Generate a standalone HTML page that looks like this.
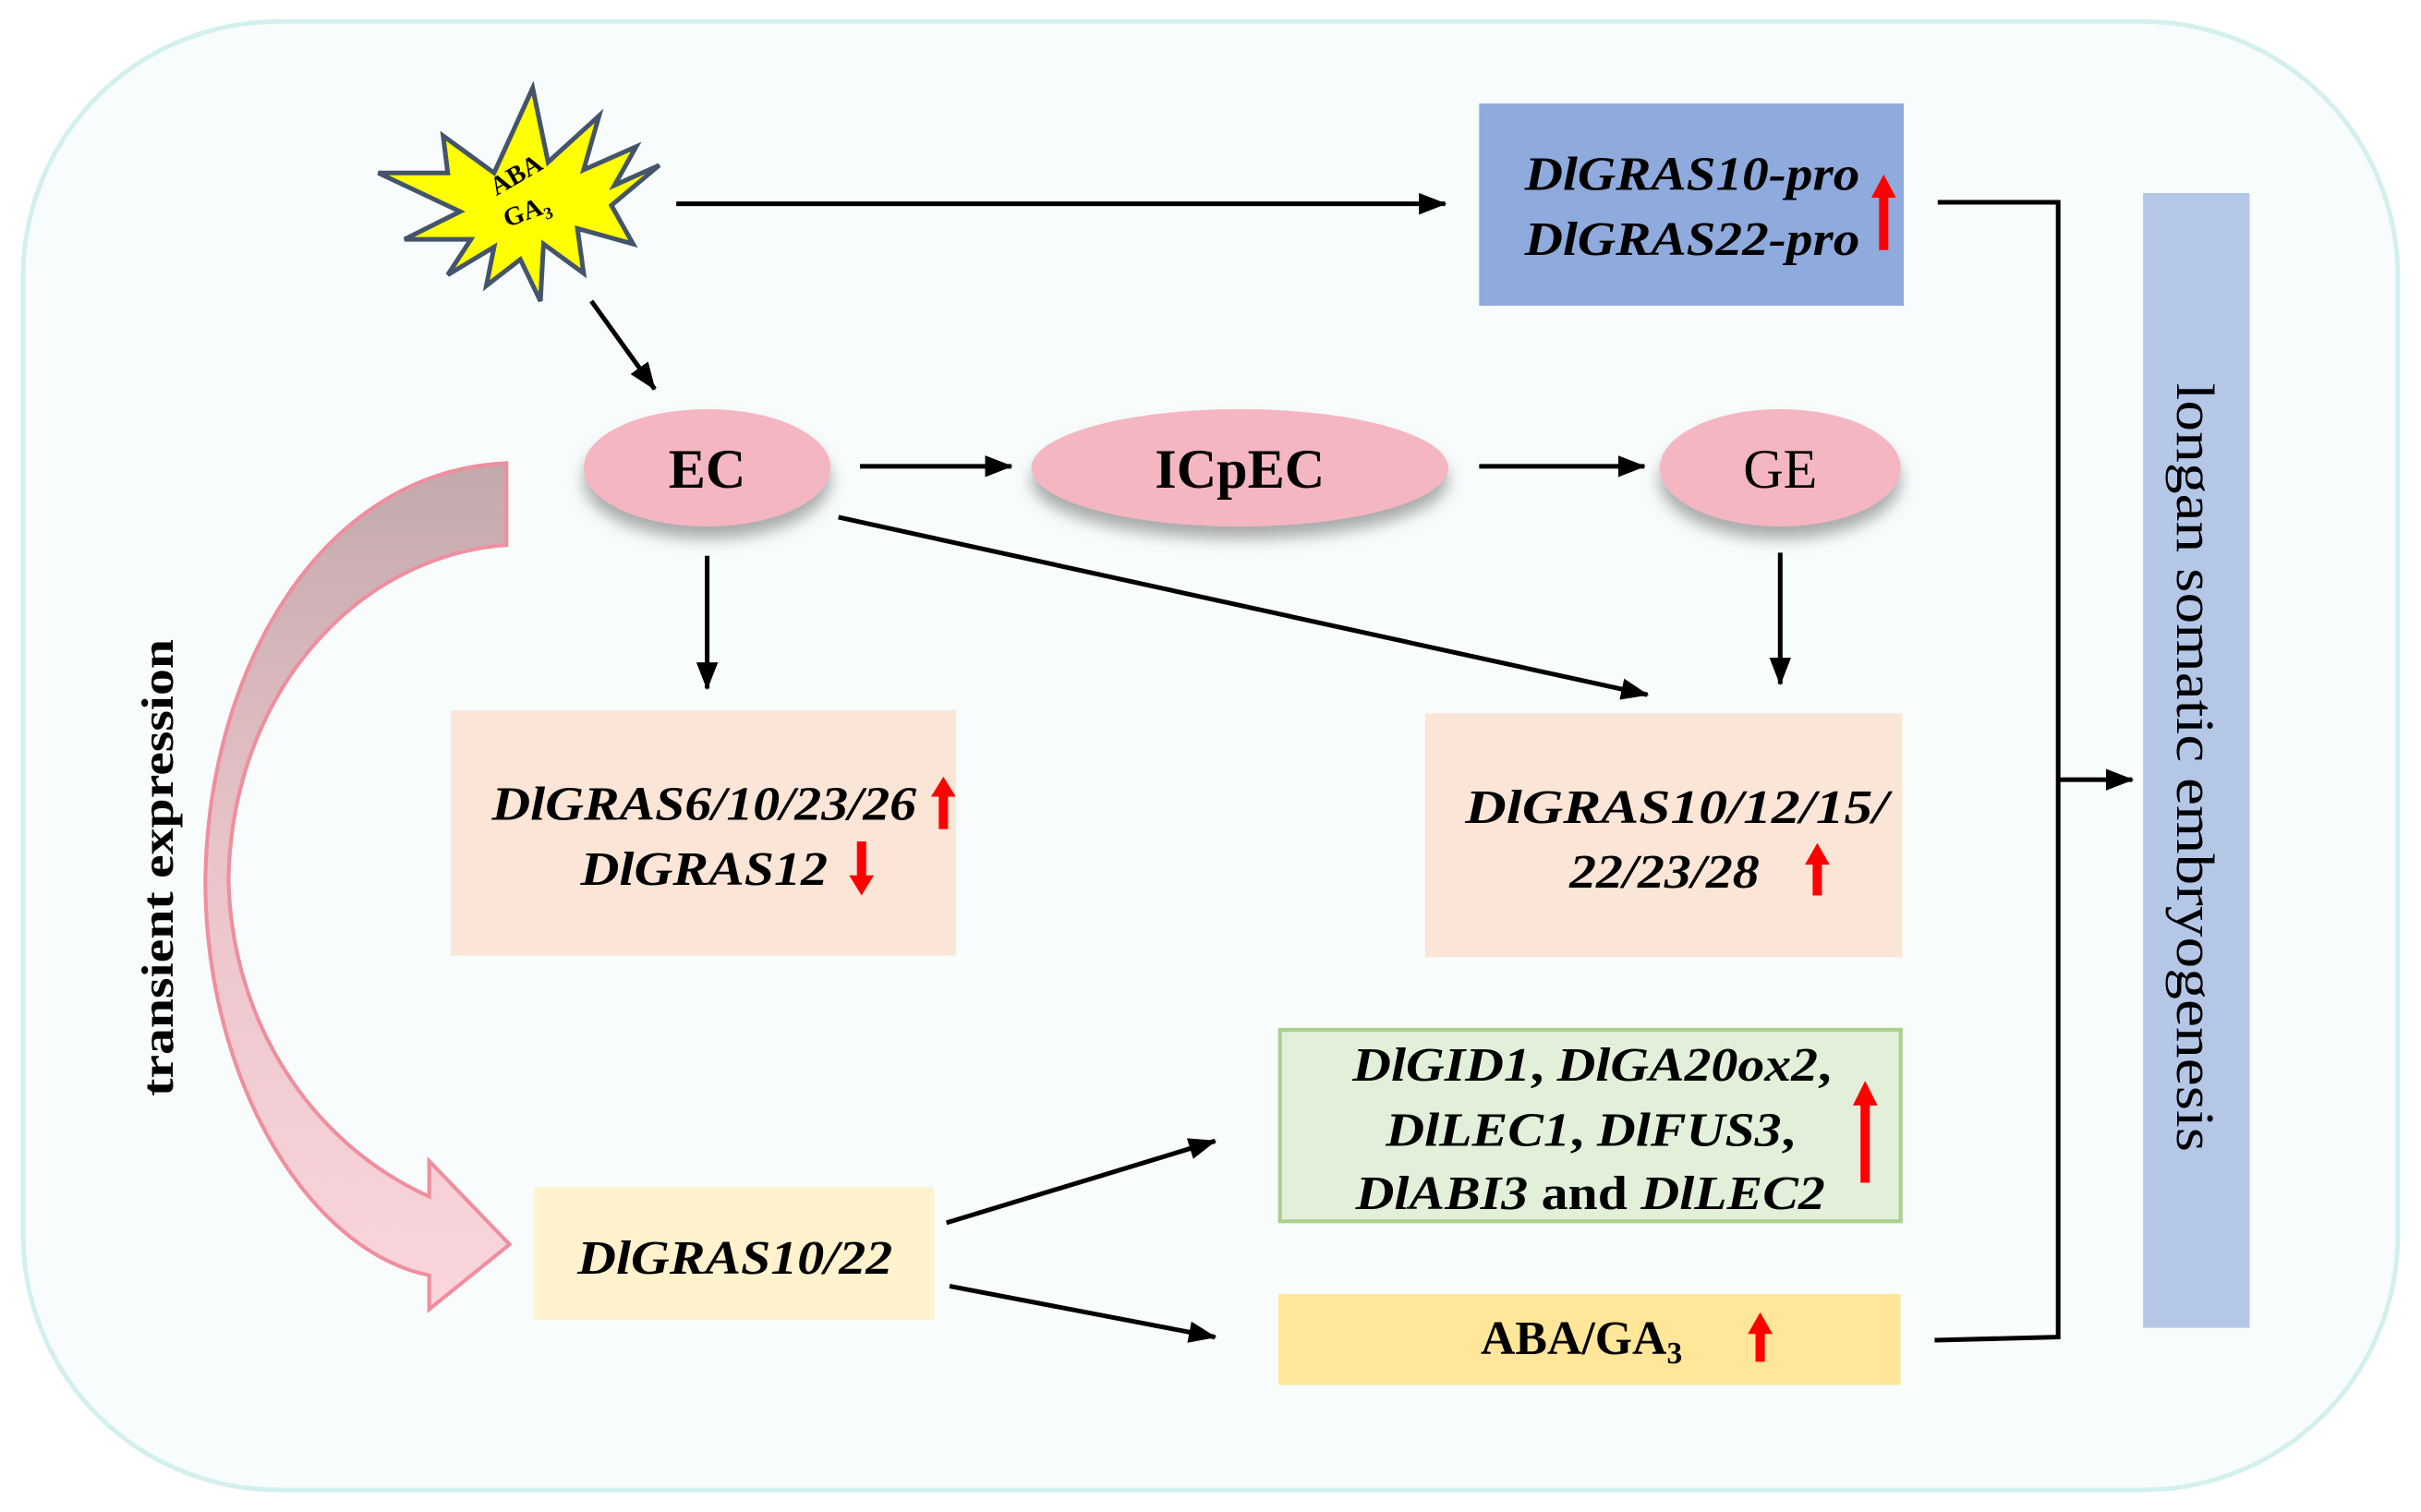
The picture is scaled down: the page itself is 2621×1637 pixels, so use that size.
<!DOCTYPE html>
<html><head><meta charset="utf-8"><style>html,body{margin:0;padding:0;background:#fff}svg{display:block}</style></head>
<body>
<svg width="2621" height="1637" viewBox="0 0 1568 979.3" preserveAspectRatio="none" xmlns="http://www.w3.org/2000/svg" font-family="'Liberation Serif', serif">
<defs>
<marker id="ah" markerWidth="10" markerHeight="10" refX="9" refY="5" orient="auto" markerUnits="userSpaceOnUse" viewBox="0 0 10 10"><path d="M0,0 L10,5 L0,10 Z" fill="#000"/></marker>
<marker id="ah2" markerWidth="18" markerHeight="14" refX="17" refY="7" orient="auto" markerUnits="userSpaceOnUse"><path d="M0,0 L18,7 L0,14 Z" fill="#000"/></marker>
<filter id="sh" x="-30%" y="-30%" width="160%" height="180%"><feDropShadow dx="0" dy="8" stdDeviation="5" flood-color="#666" flood-opacity="0.55"/></filter>
<linearGradient id="cg" x1="0" y1="0" x2="0" y2="1"><stop offset="0" stop-color="#c2a9ab"/><stop offset="0.45" stop-color="#e8c3c8"/><stop offset="1" stop-color="#fbd6dd"/></linearGradient>
</defs>
<rect x="0" y="0" width="1568" height="980" fill="#fff"/>
<rect x="15" y="14" width="1538" height="951" rx="165" ry="165" fill="#f8fcfd" stroke="#d3f0ee" stroke-width="3"/>

<!-- star -->
<polygon points="345,57 355,105 388,75 378,110 412,95 398,120 427,107 396,133 410,158 374,148 378,177 352,158 350,195 337,168 315,185 320,160 290,178 305,155 262,155 298,137 245,112 290,112 287,88 320,112" fill="#ffff00" stroke="#44546a" stroke-width="3"/>
<text x="0" y="0" font-size="17" font-weight="bold" transform="translate(337,118) rotate(-30)" text-anchor="middle">ABA</text>
<text x="0" y="0" font-size="17" font-weight="bold" transform="translate(343,142) rotate(-20)" text-anchor="middle">GA<tspan font-size="11" dy="4">3</tspan></text>

<!-- arrows -->
<g stroke="#000" stroke-width="3" fill="none" marker-end="url(#ah2)">
<line x1="438" y1="132" x2="936" y2="132"/>
<line x1="383" y1="195" x2="424" y2="252"/>
<line x1="557" y1="302" x2="655" y2="302"/>
<line x1="958" y1="302" x2="1065" y2="302"/>
<line x1="458" y1="360" x2="458" y2="446"/>
<line x1="543" y1="335" x2="1067" y2="450"/>
<line x1="1153" y1="358" x2="1153" y2="443"/>
<line x1="613" y1="792" x2="787" y2="739"/>
<line x1="615" y1="833" x2="787" y2="866"/>
<line x1="1333" y1="505" x2="1381" y2="505"/>
</g>
<polyline points="1255,131 1333,131 1333,866 1253,868" fill="none" stroke="#000" stroke-width="3"/>

<!-- blue box -->
<rect x="958" y="67" width="275" height="131" fill="#8faadc"/>
<text x="1096" y="123" font-size="31" font-weight="bold" font-style="italic" text-anchor="middle" textLength="217" lengthAdjust="spacingAndGlyphs">DlGRAS10-pro</text>
<text x="1096" y="165" font-size="31" font-weight="bold" font-style="italic" text-anchor="middle" textLength="217" lengthAdjust="spacingAndGlyphs">DlGRAS22-pro</text>

<!-- vertical bar -->
<rect x="1388" y="125" width="69" height="735" fill="#b4c7e7"/>
<text transform="translate(1410,497) rotate(90)" font-size="35" text-anchor="middle" textLength="498" lengthAdjust="spacingAndGlyphs">longan somatic embryogenesis</text>

<!-- ellipses -->
<g filter="url(#sh)" fill="#f4b6c1">
<ellipse cx="458" cy="303" rx="80" ry="38"/>
<ellipse cx="803" cy="303" rx="135" ry="38"/>
<ellipse cx="1153" cy="303" rx="78" ry="38"/>
</g>
<text x="458" y="316" font-size="36" font-weight="bold" text-anchor="middle">EC</text>
<text x="803" y="316" font-size="36" font-weight="bold" text-anchor="middle">ICpEC</text>
<text x="1153" y="316" font-size="36" text-anchor="middle">GE</text>

<!-- peach boxes -->
<rect x="292" y="460" width="327" height="159" fill="#fbe5d6"/>
<text x="456" y="531" font-size="31" font-weight="bold" font-style="italic" text-anchor="middle" textLength="275" lengthAdjust="spacingAndGlyphs">DlGRAS6/10/23/26</text>
<text x="456" y="573" font-size="31" font-weight="bold" font-style="italic" text-anchor="middle" textLength="160" lengthAdjust="spacingAndGlyphs">DlGRAS12</text>
<rect x="923" y="462" width="309" height="158" fill="#fbe5d6"/>
<text x="1086" y="533" font-size="31" font-weight="bold" font-style="italic" text-anchor="middle" textLength="274" lengthAdjust="spacingAndGlyphs">DlGRAS10/12/15/</text>
<text x="1078" y="575" font-size="31" font-weight="bold" font-style="italic" text-anchor="middle" textLength="123" lengthAdjust="spacingAndGlyphs">22/23/28</text>

<!-- green box -->
<rect x="829" y="667" width="402" height="124" fill="#e2f0d9" stroke="#a9d18e" stroke-width="2.5"/>
<text x="1031" y="700" font-size="31" font-weight="bold" font-style="italic" text-anchor="middle" textLength="310" lengthAdjust="spacingAndGlyphs">DlGID1<tspan font-style="normal">, </tspan>DlGA20ox2<tspan font-style="normal">,</tspan></text>
<text x="1030" y="742" font-size="31" font-weight="bold" font-style="italic" text-anchor="middle" textLength="265" lengthAdjust="spacingAndGlyphs">DlLEC1<tspan font-style="normal">, </tspan>DlFUS3<tspan font-style="normal">,</tspan></text>
<text x="1030" y="783" font-size="31" font-weight="bold" font-style="italic" text-anchor="middle" textLength="304" lengthAdjust="spacingAndGlyphs">DlABI3<tspan font-style="normal"> and </tspan>DlLEC2</text>

<!-- yellow box -->
<rect x="828" y="838" width="403" height="59" fill="#ffe699"/>
<text x="959" y="877" font-size="31" font-weight="bold">ABA/GA<tspan font-size="20" dy="6">3</tspan></text>

<!-- DlGRAS10/22 -->
<rect x="346" y="769" width="259" height="86" fill="#fff2cc"/>
<text x="476" y="825" font-size="31" font-weight="bold" font-style="italic" text-anchor="middle" textLength="204" lengthAdjust="spacingAndGlyphs">DlGRAS10/22</text>

<!-- red arrows -->
<g fill="#ff0000">
<path d="M1220,113 L1228,128 L1223,128 L1223,162 L1217,162 L1217,128 L1212,128 Z"/>
<path d="M611,503 L619,516 L614,516 L614,537 L608,537 L608,516 L603,516 Z"/>
<path d="M558,580 L566,567 L561,567 L561,545 L555,545 L555,567 L550,567 Z"/>
<path d="M1177,546 L1185,560 L1180,560 L1180,580 L1174,580 L1174,560 L1169,560 Z"/>
<path d="M1208,700 L1216,716 L1211,716 L1211,766 L1205,766 L1205,716 L1200,716 Z"/>
<path d="M1140,850 L1148,864 L1143,864 L1143,882 L1137,882 L1137,864 L1132,864 Z"/>
</g>

<!-- curved arrow -->
<path d="M328,300 C210,305 135,430 133,570 C133,700 200,810 278,826 L278,848 L330,806 L278,752 L278,775 C200,740 150,660 148,570 C150,450 230,360 328,353 Z" fill="url(#cg)" stroke="#ef8f9e" stroke-width="2.5"/>
<text transform="translate(112,562) rotate(-90)" font-size="29" font-weight="bold" text-anchor="middle" textLength="296" lengthAdjust="spacingAndGlyphs">transient expression</text>
</svg>
</body></html>
